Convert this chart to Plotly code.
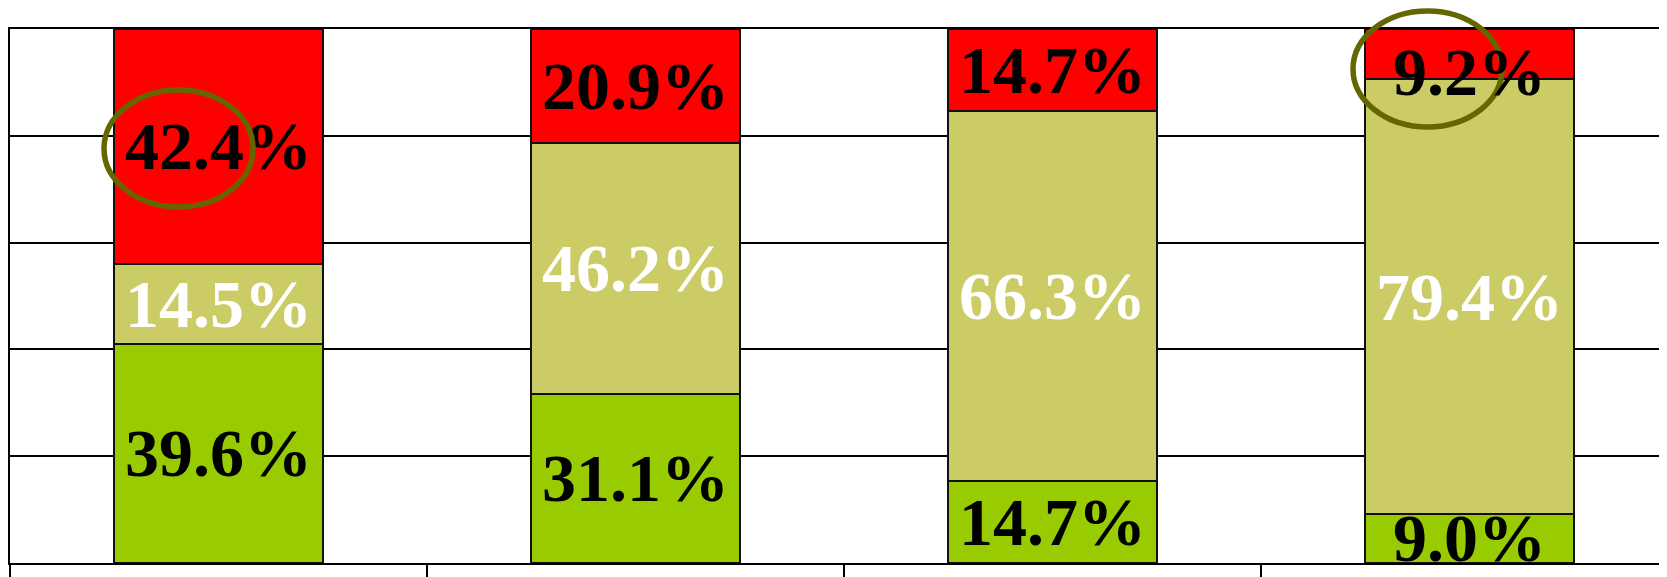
import plotly.graph_objects as go

categories = ["A", "B", "C", "D"]
green_vals = [39.6, 31.1, 14.7, 9.0]
khaki_vals = [14.5, 46.2, 66.3, 79.4]
red_vals = [42.4, 20.9, 14.7, 9.2]

# page body has an 8px margin; the figure starts at (8, 8)
OFF = 8
W, H = 1667 - OFF, 577 - OFF
ML, MT, MB, MR = 10 - OFF, 29 - OFF, 14, 0
pw, ph = W - ML - MR, H - MT - MB

def px_x(p):
    return (p - OFF - ML) / pw

def px_y(p):
    return (H - MB - (p - OFF)) / ph

xs = list(range(len(categories)))
font = dict(family="Liberation Serif, Times New Roman, serif", size=68)

def fmt(v):
    return f"{v:.1f}%"

def bar(vals, color, tcolor, hide=()):
    return go.Bar(
        x=xs, y=vals, width=0.5,
        marker=dict(color=color, line=dict(color="#111111", width=2)),
        text=["" if i in hide else fmt(v) for i, v in enumerate(vals)],
        textposition="inside", insidetextanchor="middle",
        textangle=0, constraintext="none",
        textfont=dict(color=tcolor, **font),
        texttemplate="<b>%{text}</b>",
        cliponaxis=True, hoverinfo="skip", showlegend=False,
    )

# the last red label is pushed down so it stays inside the plot (as in the original)
fig = go.Figure([
    bar(green_vals, "#99CC00", "black"),
    bar(khaki_vals, "#CCCC66", "white"),
    bar(red_vals, "#FF0000", "black", hide=(3,)),
])

i = 3
tot = green_vals[i] + khaki_vals[i] + red_vals[i]
mid = (green_vals[i] + khaki_vals[i] + red_vals[i] / 2) / tot * 100
fig.add_annotation(x=xs[i], y=mid, xref="x", yref="y", showarrow=False,
                   text=f"<b>{fmt(red_vals[i])}</b>", yshift=-18,
                   font=dict(color="black", **font))

span_right = -0.5 + pw / 417.0
fig.update_layout(
    width=W, height=H, barmode="stack", barnorm="percent",
    margin=dict(l=ML, r=MR, t=MT, b=MB, autoexpand=False),
    plot_bgcolor="white", paper_bgcolor="white",
    xaxis=dict(range=[-0.5, span_right], showgrid=False, zeroline=False,
               automargin=False,
               tickmode="array", tickvals=[-0.5, 0.5, 1.5, 2.5, 3.5],
               ticks="outside", ticklen=20, tickwidth=1.5, tickcolor="black",
               showticklabels=False, showline=True, linecolor="black",
               linewidth=2, mirror=True),
    yaxis=dict(range=[0, 100], tickvals=[20, 40, 60, 80], showgrid=True,
               automargin=False,
               gridcolor="#000000", gridwidth=1.5, zeroline=False,
               showticklabels=False, showline=True, linecolor="black",
               linewidth=1.5, ticks=""),
    shapes=[
        dict(type="circle", xref="paper", yref="paper",
             x0=px_x(104), x1=px_x(253), y0=px_y(207), y1=px_y(90),
             line=dict(color="#666600", width=5.5)),
        dict(type="circle", xref="paper", yref="paper",
             x0=px_x(1353), x1=px_x(1502), y0=px_y(127), y1=px_y(11),
             line=dict(color="#666600", width=5.5)),
    ],
)

fig.write_html("out.html")
